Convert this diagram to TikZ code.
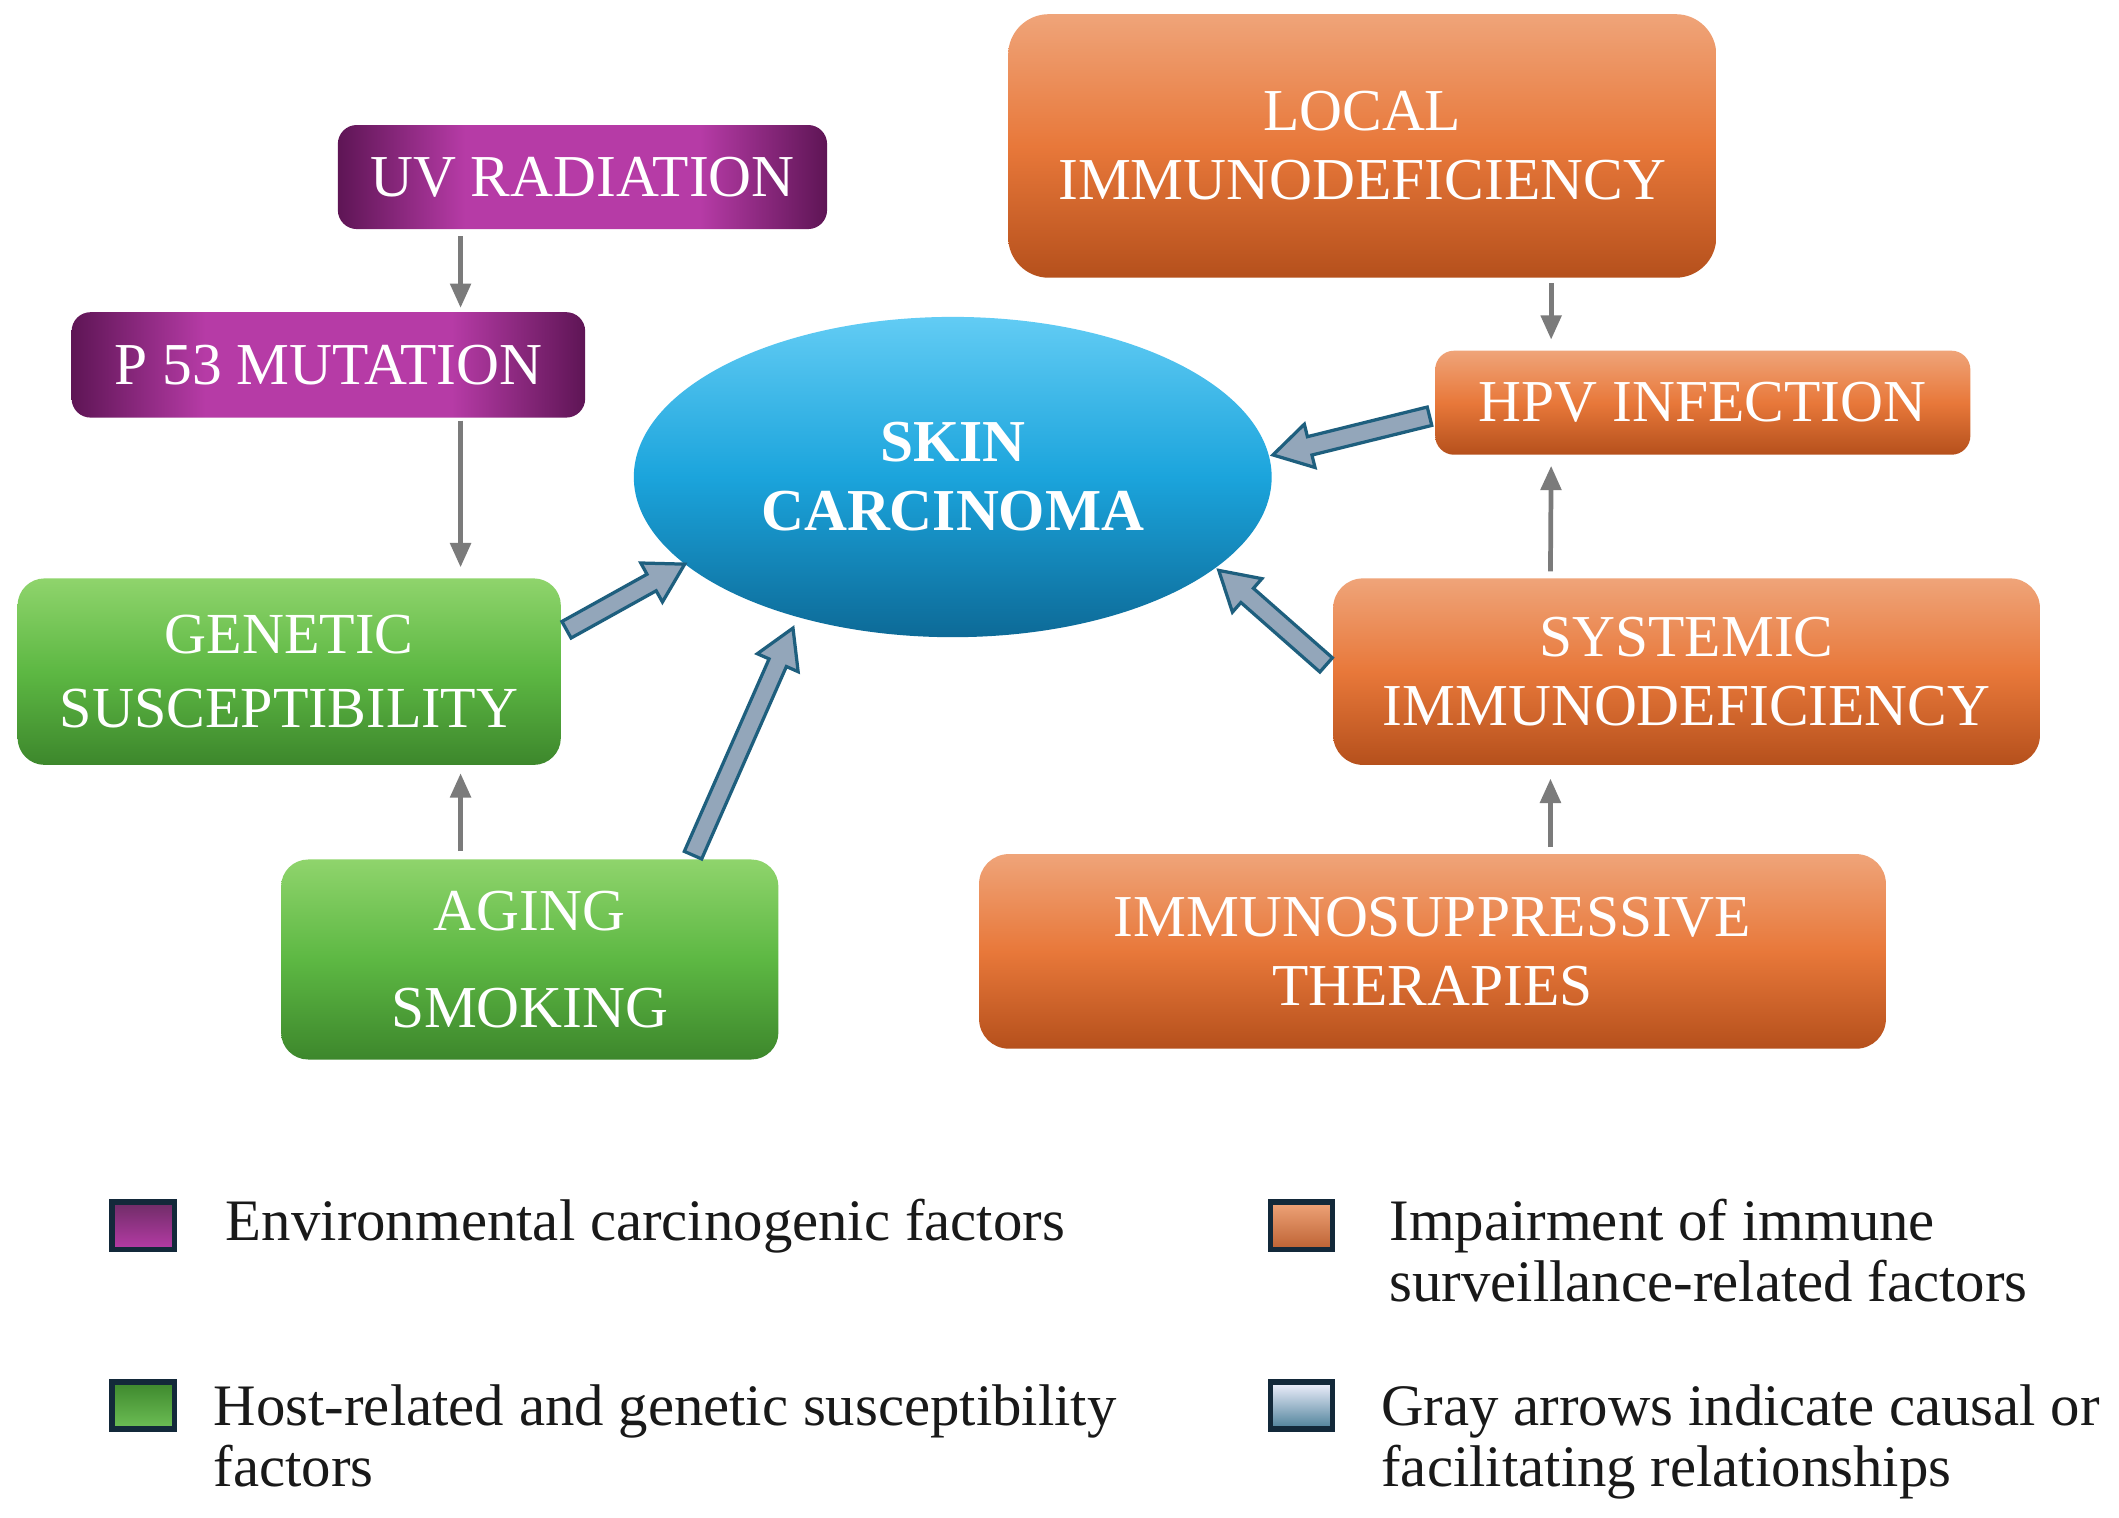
\documentclass[tikz,border=0pt]{standalone}
\usepackage{fontspec}
\setmainfont{Liberation Serif}
\usetikzlibrary{calc,arrows.meta,shapes.geometric}
\definecolor{purD}{HTML}{5E1555}
\definecolor{purM}{HTML}{B63BA6}
\definecolor{orT}{HTML}{EFA479}
\definecolor{orM}{HTML}{E8783A}
\definecolor{orB}{HTML}{B5501C}
\definecolor{grT}{HTML}{8FD46C}
\definecolor{grM}{HTML}{5DB843}
\definecolor{grB}{HTML}{3D872C}
\definecolor{blT}{HTML}{62CCF4}
\definecolor{blM}{HTML}{1BA4DC}
\definecolor{blB}{HTML}{0D6A97}
\definecolor{arrFill}{HTML}{93A6BA}
\definecolor{arrLine}{HTML}{1E5F7E}
\definecolor{thinGray}{HTML}{7B7B7B}
\definecolor{legEdge}{HTML}{13293A}
\pgfdeclarehorizontalshading{purpleH}{100bp}{color(0bp)=(purD); color(25bp)=(purD); color(38bp)=(purM); color(62bp)=(purM); color(75bp)=(purD); color(100bp)=(purD)}
\tikzset{
  boxbase/.style={rounded corners=14pt, inner sep=0pt, align=center, text=white,
    font=\fontsize{44}{51}\selectfont},
  purplebox/.style={boxbase, shade, shading=purpleH},
  greenbox/.style={boxbase, rounded corners=20pt, top color=grT, bottom color=grB, middle color=grM},
  orangebox/.style={boxbase, rounded corners=22pt, top color=orT, bottom color=orB, middle color=orM},
  skinnode/.style={ellipse, inner sep=0pt, minimum width=472pt, minimum height=237pt,
    top color=blT, bottom color=blB, middle color=blM, text=white, align=center,
    font=\bfseries\fontsize{44}{51}\selectfont},
  thinarr/.style={draw=thinGray, line width=3.5pt, -{Triangle[length=18pt,width=15pt]}},
  blockarrow/.style={fill=arrFill, draw=arrLine, line width=2.4pt, line join=miter},
  legsq/.style={draw=legEdge, line width=4pt, minimum width=46pt, minimum height=35pt, inner sep=0pt},
  legtext/.style={anchor=base west, inner sep=0pt, text=black!90, font=\fontsize{43.5}{46}\selectfont}
}
\newcommand\blockarr[2]{%
  \path coordinate (ba-h) at ($(#2)!28pt!(#1)$);
  \draw[blockarrow] ($(#1)!7pt!90:(#2)$) -- ($(ba-h)!7pt!-90:(#1)$) -- ($(ba-h)!16.5pt!-90:(#1)$)
    -- (#2) -- ($(ba-h)!16.5pt!90:(#1)$) -- ($(ba-h)!7pt!90:(#1)$) -- ($(#1)!7pt!-90:(#2)$) -- cycle;
}
\begin{document}
\begin{tikzpicture}[x=1pt,y=-1pt]
\useasboundingbox[fill=white] (0,0) rectangle (1568,1123);

% nodes
\node[purplebox, minimum width=362pt, minimum height=77pt] (uv) at (431,131) {UV RADIATION};
\node[purplebox, minimum width=380pt, minimum height=78pt] (p53) at (243,270) {P 53 MUTATION};
\node[greenbox, minimum width=402pt, minimum height=138pt, font=\fontsize{43}{55}\selectfont] (gen) at (214,497) {GENETIC\\SUSCEPTIBILITY};
\node[greenbox, minimum width=368pt, minimum height=148pt, font=\fontsize{44}{72}\selectfont] (age) at (392,710) {AGING\\SMOKING};
\node[skinnode] (skin) at (705,353) {SKIN\\CARCINOMA};
\node[orangebox, rounded corners=30pt, minimum width=524pt, minimum height=195pt] (local) at (1008,108) {LOCAL\\IMMUNODEFICIENCY};
\node[orangebox, rounded corners=14pt, minimum width=396pt, minimum height=77pt] (hpv) at (1260,298) {HPV INFECTION};
\node[orangebox, minimum width=523pt, minimum height=138pt] (sys) at (1248,497) {SYSTEMIC\\IMMUNODEFICIENCY};
\node[orangebox, minimum width=671pt, minimum height=144pt] (imm) at (1060,704) {IMMUNOSUPPRESSIVE\\THERAPIES};

% thin gray arrows
\draw[thinarr] ([xshift=91pt,yshift=-5pt]uv.south west) -- ([xshift=288pt,yshift=3pt]p53.north west);
\draw[thinarr] ([xshift=288pt,yshift=-2pt]p53.south west) -- ([xshift=328pt,yshift=8pt]gen.north west);
\draw[thinarr] ([xshift=133pt,yshift=6pt]age.north west) -- ([xshift=328pt,yshift=-6pt]gen.south west);
\draw[thinarr] ([xshift=402pt,yshift=-4pt]local.south west) -- ([xshift=86pt,yshift=8pt]hpv.north west);
\draw[thinarr] ([xshift=161pt,yshift=5pt]sys.north west) -- ([xshift=86pt,yshift=-8pt]hpv.south west);
\draw[thinarr] ([xshift=423pt,yshift=5pt]imm.north west) -- ([xshift=161pt,yshift=-10pt]sys.south west);

% block arrows to skin carcinoma
\coordinate (genT) at ([xshift=4pt,yshift=31pt]gen.east);
\coordinate (skinG) at (skin.198);
\coordinate (ageT) at ([xshift=305pt,yshift=3pt]age.north west);
\coordinate (skinA) at ([yshift=-9pt]skin.221);
\coordinate (sysT) at ([xshift=-5pt,yshift=5pt]sys.west);
\coordinate (skinS) at ([xshift=2pt,yshift=-2pt]skin.341);
\coordinate (hpvT) at ([xshift=-4pt,yshift=-10pt]hpv.west);
\coordinate (skinH) at ([xshift=3pt]skin.4);
\blockarr{genT}{skinG}
\blockarr{ageT}{skinA}
\blockarr{sysT}{skinS}
\blockarr{hpvT}{skinH}

% legend
\node[legsq, top color=purD!90, bottom color=purM] (lg1) at (106,907) {};
\node[legsq, top color=grB, bottom color=grM!90] (lg2) at (106,1040) {};
\node[legsq, top color=orT, bottom color=orB!90] (lg3) at (963,907) {};
\node[legsq, top color=blue!5!white, bottom color=arrLine!80] (lg4) at (963,1040) {};
\node[legtext] (lt1) at (167,918) {Environmental carcinogenic factors};
\node[legtext] (lt2a) at (158,1055) {Host-related and genetic susceptibility};
\node[legtext] (lt2b) at (158,1100) {factors};
\node[legtext] (lt3a) at (1028,918) {Impairment of immune};
\node[legtext] (lt3b) at (1028,963) {surveillance-related factors};
\node[legtext] (lt4a) at (1022,1055) {Gray arrows indicate causal or};
\node[legtext] (lt4b) at (1022,1100) {facilitating relationships};
\end{tikzpicture}
\end{document}
